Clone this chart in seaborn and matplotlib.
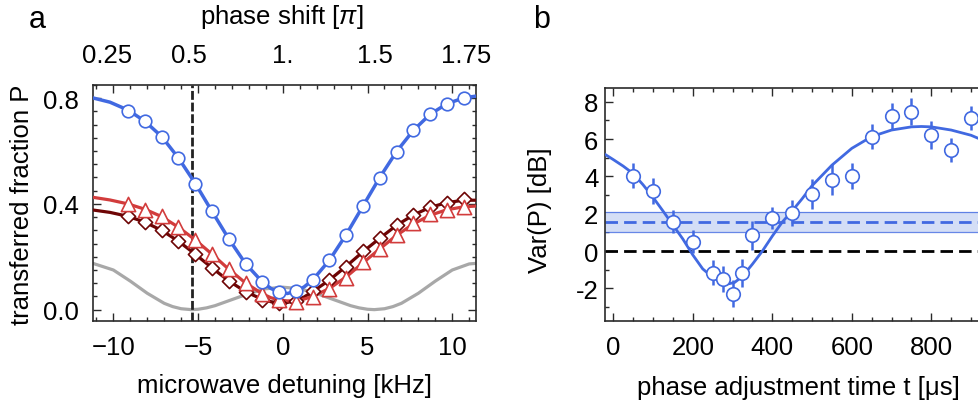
import matplotlib
matplotlib.use('Agg')
import matplotlib.pyplot as plt
from matplotlib.ticker import MultipleLocator, FixedLocator
import seaborn as sns

# ---------------- Panel a data ----------------
detuning = [-9.13, -8.14, -7.15, -6.16, -5.17, -4.18, -3.19, -2.20, -1.21, -0.22, 0.77,
            1.76, 2.75, 3.74, 4.73, 5.72, 6.71, 7.70, 8.69, 9.68, 10.67]
p_blue = [0.753, 0.713, 0.655, 0.574, 0.476, 0.372, 0.268, 0.173, 0.104, 0.068, 0.070,
          0.112, 0.187, 0.283, 0.392, 0.499, 0.598, 0.678, 0.739, 0.779, 0.801]
p_red = [0.398, 0.378, 0.355, 0.312, 0.264, 0.209, 0.152, 0.101, 0.058, 0.035, 0.030,
         0.047, 0.079, 0.118, 0.179, 0.231, 0.282, 0.326, 0.360, 0.378, 0.388]
p_darkred = [0.353, 0.332, 0.300, 0.261, 0.209, 0.158, 0.110, 0.067, 0.038, 0.026, 0.034,
             0.070, 0.112, 0.163, 0.220, 0.270, 0.321, 0.358, 0.388, 0.404, 0.419]

fit_x = [-11.2, -10.2, -9.13, -8.14, -7.15, -6.16, -5.17, -4.18, -3.19, -2.20, -1.21, -0.7,
         -0.22, 0.26, 0.77, 1.26, 1.76, 2.75, 3.74, 4.73, 5.72, 6.71, 7.70, 8.69, 9.68, 10.67, 11.4]
fit_blue = [0.801, 0.785, 0.755, 0.713, 0.655, 0.574, 0.478, 0.372, 0.268, 0.174, 0.105, 0.080,
            0.066, 0.061, 0.069, 0.086, 0.112, 0.187, 0.284, 0.392, 0.500, 0.598, 0.678, 0.739,
            0.779, 0.801, 0.808]
fit_red = [0.425, 0.415, 0.400, 0.380, 0.352, 0.312, 0.264, 0.210, 0.153, 0.101, 0.060, 0.045,
           0.037, 0.033, 0.034, 0.040, 0.050, 0.080, 0.124, 0.177, 0.230, 0.281, 0.324, 0.357,
           0.378, 0.389, 0.392]
fit_darkred = [0.377, 0.368, 0.353, 0.331, 0.300, 0.259, 0.210, 0.158, 0.109, 0.068, 0.039, 0.030,
               0.026, 0.027, 0.034, 0.048, 0.068, 0.112, 0.164, 0.219, 0.270, 0.319, 0.358, 0.387,
               0.405, 0.414, 0.414]

gray_x = [-11.2, -10, -9, -8, -7, -6.5, -6, -5.4, -5, -4.5, -4, -3, -2, -1, 0, 1, 2, 3, 4,
          4.5, 5, 5.4, 6, 6.5, 7, 8, 9, 10, 11, 11.4]
gray_y = [0.175, 0.150, 0.108, 0.062, 0.024, 0.0115, 0.0034, 0.0, 0.0014, 0.0067, 0.015, 0.038,
          0.061, 0.079, 0.085, 0.079, 0.061, 0.038, 0.015, 0.0067, 0.0014, 0.0, 0.0034, 0.0115,
          0.024, 0.062, 0.108, 0.150, 0.173, 0.175]

phase_pos = [-10.35, -5.55, 0.0, 5.45, 10.8]
phase_labels = ["0.25", "0.5", "1.", "1.5", "1.75"]
marker_detuning = -5.36

# ---------------- Panel b data ----------------
t_us = [50, 100, 150, 200, 250, 275, 300, 325, 350, 400, 450, 500, 550, 600, 650, 700,
        750, 800, 850, 900]
var_db = [4.04, 3.22, 1.58, 0.51, -1.16, -1.48, -2.28, -1.16, 0.84, 1.78, 2.03, 3.06, 3.83,
          4.01, 6.13, 7.25, 7.47, 6.24, 5.42, 7.13]
var_err = [0.67, 0.71, 0.62, 0.60, 0.67, 0.71, 0.71, 0.76, 0.78, 0.58, 0.71, 0.78, 0.83, 0.71,
           0.69, 0.69, 0.73, 0.75, 0.64, 0.65]
fitb_t = [-20, 0, 25, 50, 75, 100, 125, 150, 175, 200, 225, 250, 275, 290, 305, 325, 350, 375,
          400, 425, 450, 475, 500, 550, 600, 650, 700, 750, 775, 800, 850, 900, 920]
fitb_v = [5.17, 4.90, 4.55, 4.15, 3.55, 2.88, 2.15, 1.40, 0.65, -0.20, -0.95, -1.40, -1.68,
          -1.75, -1.68, -1.35, -0.70, 0.00, 0.80, 1.55, 2.15, 2.80, 3.50, 4.60, 5.50, 6.13,
          6.48, 6.65, 6.67, 6.65, 6.48, 6.20, 6.02]
band_mean = 1.55
band_low = 1.02
band_high = 2.07
zero_level = 0.0

# ---------------- style ----------------
sns.set_style('ticks')
plt.rcParams['font.family'] = ['Liberation Sans', 'DejaVu Sans']
plt.rcParams['mathtext.fontset'] = 'custom'
plt.rcParams['mathtext.rm'] = 'Liberation Sans'
plt.rcParams['mathtext.it'] = 'Liberation Sans:italic'
for k in ['text.color', 'axes.labelcolor', 'xtick.labelcolor', 'ytick.labelcolor']:
    plt.rcParams[k] = 'black'
FS = 18.5
plt.rcParams['font.size'] = FS

BLUE = '#4169E1'
RED = '#D23C3C'
DRED = '#6E0505'
GRAY = '#A8A8A8'
BAND = '#D4DEF6'
FRAME = '#2a2a2a'

fig = plt.figure(figsize=(9.79, 4.10), dpi=100)
axa = fig.add_axes([93 / 979, 88 / 410, 383 / 979, 236 / 410])
axb = fig.add_axes([605.3 / 979, 88 / 410, 373.7 / 979, 233 / 410])

# ---------------- panel a ----------------
sns.lineplot(x=gray_x, y=gray_y, ax=axa, color=GRAY, lw=2.3, sort=False, estimator=None, zorder=2)
axa.axvline(marker_detuning, color='#222222', lw=2.0, ls=(0, (3.2, 1.0)), zorder=2.5)
sns.lineplot(x=fit_x, y=fit_darkred, ax=axa, color=DRED, lw=2.3, sort=False, estimator=None, zorder=3)
sns.lineplot(x=fit_x, y=fit_red, ax=axa, color=RED, lw=2.3, sort=False, estimator=None, zorder=3)
sns.lineplot(x=fit_x, y=fit_blue, ax=axa, color=BLUE, lw=2.5, sort=False, estimator=None, zorder=3)
sns.scatterplot(x=detuning, y=p_darkred, ax=axa, marker='D', s=52, facecolor='white',
                edgecolor=DRED, linewidth=1.2, zorder=4)
sns.scatterplot(x=detuning, y=p_red, ax=axa, marker='^', s=105, facecolor='white',
                edgecolor=RED, linewidth=1.2, zorder=5)
sns.scatterplot(x=detuning, y=p_blue, ax=axa, marker='o', s=82, facecolor='white',
                edgecolor=BLUE, linewidth=1.2, zorder=6)

axa.set_xlim(-11.2, 11.4)
axa.set_ylim(-0.043, 0.85)
axa.xaxis.set_major_locator(FixedLocator([-10, -5, 0, 5, 10]))
axa.xaxis.set_minor_locator(MultipleLocator(1))
axa.yaxis.set_major_locator(FixedLocator([0.0, 0.4, 0.8]))
axa.yaxis.set_minor_locator(MultipleLocator(0.05))
axa.set_xticklabels(['\u221210', '\u22125', '0', '5', '10'])
axa.set_yticklabels(['0.0', '0.4', '0.8'])
axa.tick_params(which='both', direction='in', top=True, right=True, color=FRAME, width=1.0,
                labelcolor='black')
axa.tick_params(which='major', length=6)
axa.tick_params(which='minor', length=3)
axa.tick_params(axis='x', which='major', pad=10, labelsize=FS)
axa.tick_params(axis='y', which='major', pad=10, labelsize=FS)
for sp in axa.spines.values():
    sp.set_color(FRAME)
    sp.set_linewidth(1.2)

sec = axa.secondary_xaxis('top')
sec.set_xticks(phase_pos)
sec.set_xticklabels(phase_labels)
sec.tick_params(length=0, pad=13, labelsize=FS, labelcolor='black')
sec.spines['top'].set_visible(False)

axa.set_xlabel('microwave detuning [kHz]', fontsize=FS, color='black')
axa.xaxis.label.set_va('center')
axa.xaxis.set_label_coords(0.5, -(388 - 324) / 236)
axa.set_ylabel('transferred fraction P', fontsize=FS, color='black')
axa.yaxis.label.set_va('center')
axa.yaxis.set_label_coords((21.7 - 93) / 383, (324 - 207) / 236)
fig.text(281.7 / 979, 1 - 17 / 410, 'phase shift [$\\pi$]', ha='center', va='center',
         fontsize=FS, color='black')
fig.text(37 / 979, 1 - 20 / 410, 'a', ha='center', va='center', fontsize=22, color='black')

# ---------------- panel b ----------------
axb.axhspan(band_low, band_high, color=BAND, lw=0, zorder=1)
axb.axhline(band_low, color=BLUE, lw=0.9, alpha=0.8, zorder=1.5)
axb.axhline(band_high, color=BLUE, lw=0.9, alpha=0.8, zorder=1.5)
axb.axhline(band_mean, color=BLUE, lw=2.0, ls=(0, (4.5, 2.2)), zorder=2)
axb.axhline(zero_level, color='black', lw=2.0, ls=(0, (4.5, 2.2)), zorder=2)
sns.lineplot(x=fitb_t, y=fitb_v, ax=axb, color=BLUE, lw=2.0, sort=False, estimator=None, zorder=3)
lo = [v - e for v, e in zip(var_db, var_err)]
hi = [v + e for v, e in zip(var_db, var_err)]
axb.vlines(t_us, lo, hi, color=BLUE, lw=1.8, zorder=4)
sns.scatterplot(x=t_us, y=var_db, ax=axb, marker='o', s=95, facecolor='white',
                edgecolor=BLUE, linewidth=1.2, zorder=5)

axb.set_xlim(-20, 920)
axb.set_ylim(-3.74, 8.73)
axb.xaxis.set_major_locator(MultipleLocator(200))
axb.xaxis.set_minor_locator(MultipleLocator(50))
axb.yaxis.set_major_locator(MultipleLocator(2))
axb.yaxis.set_minor_locator(MultipleLocator(1))
axb.set_yticks([-2, 0, 2, 4, 6, 8])
axb.set_yticklabels(['-2', '0', '2', '4', '6', '8'])
axb.tick_params(which='both', direction='in', top=True, right=False, color=FRAME, width=1.0,
                labelcolor='black')
axb.tick_params(which='major', length=6)
axb.tick_params(which='minor', length=3)
axb.tick_params(axis='x', which='major', pad=10, labelsize=FS)
axb.tick_params(axis='y', which='major', pad=5, labelsize=FS)
for sp in axb.spines.values():
    sp.set_color(FRAME)
    sp.set_linewidth(1.2)
axb.spines['right'].set_visible(False)

axb.set_xlabel('phase adjustment time t [\u03bcs]', fontsize=FS, color='black')
axb.xaxis.label.set_va('center')
axb.xaxis.set_label_coords((798 - 605.3) / 373.7, -(388 - 322) / 233)
axb.set_ylabel('Var(P) [dB]', fontsize=FS, color='black')
axb.yaxis.label.set_va('center')
axb.yaxis.set_label_coords((540 - 605.3) / 373.7, (322 - 210) / 233)
fig.text(541.7 / 979, 1 - 20 / 410, 'b', ha='center', va='center', fontsize=22, color='black')

fig.savefig('out.png', dpi=100)
